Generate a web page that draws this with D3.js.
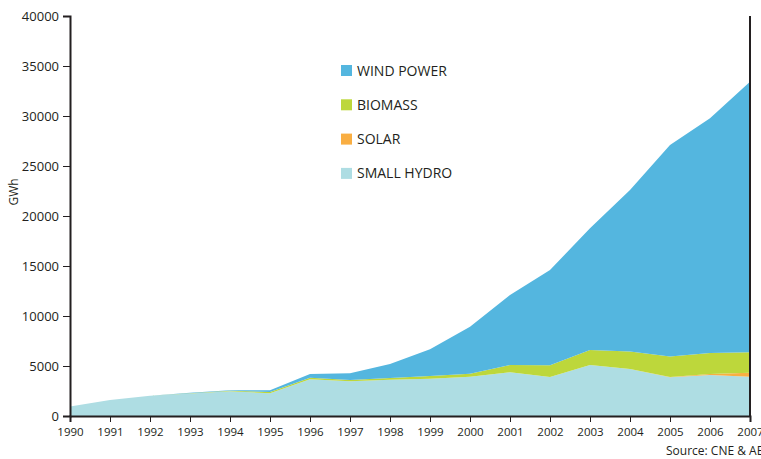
<!DOCTYPE html>
<html>
<head>
<meta charset="utf-8">
<script src="https://d3js.org/d3.v7.min.js"></script>
<style>
  body, html { margin: 0; background: #fff; }
  text { font-family: 'Open Sans', sans-serif; fill: #231f20; }
  .axis path, .axis line { stroke: #231f20; }
</style>
</head>
<body>
<div id="chart"></div>
<script>
  // data (GWh)
  var years = [1990, 1991, 1992, 1993, 1994, 1995, 1996, 1997, 1998, 1999,
               2000, 2001, 2002, 2003, 2004, 2005, 2006, 2007];
  var smallHydro = [950, 1600, 2030, 2250, 2470, 2270, 3670, 3470, 3630, 3730,
                    3930, 4370, 3900, 5100, 4700, 3870, 4100, 3930];
  var solar = [0, 0, 0, 0, 0, 0, 0, 0, 0, 0,
               0, 0, 0, 0, 10, 20, 110, 400];
  var biomass = [0, 0, 0, 20, 60, 130, 160, 130, 170, 270,
                 300, 730, 1170, 1500, 1730, 2060, 2100, 2050];
  var windPower = [0, 0, 0, 60, 40, 170, 370, 670, 1400, 2670,
                   4700, 7000, 9530, 12170, 16160, 21150, 23460, 27050];
  var yTicks = [0, 5000, 10000, 15000, 20000, 25000, 30000, 35000, 40000];

  var keys = ["hydro", "solar", "biomass", "wind"];
  var labels = {wind: "WIND POWER", biomass: "BIOMASS", solar: "SOLAR", hydro: "SMALL HYDRO"};
  var colors = {wind: "#54b6df", biomass: "#bdd73b", solar: "#f9ae42", hydro: "#aedde3"};

  var rows = years.map((y, i) => ({
    year: y, hydro: smallHydro[i], solar: solar[i], biomass: biomass[i], wind: windPower[i]
  }));

  var W = 761, H = 459;
  var svg = d3.select("#chart").append("svg")
    .attr("width", W)
    .attr("height", H);

  var x = d3.scaleLinear().domain([1990, 2007]).range([70, 750]);
  var y = d3.scaleLinear().domain([0, 40000]).range([416, 16]);

  var stack = d3.stack().keys(keys);
  var series = stack(rows);

  var area = d3.area()
    .x(d => x(d.data.year))
    .y0(d => y(d[0]))
    .y1(d => y(d[1]));

  svg.append("g").selectAll("path")
    .data(series)
    .enter()
    .append("path")
      .attr("d", area)
      .attr("fill", d => colors[d.key]);

  // axes
  var yAxis = svg.append("g")
    .attr("class", "axis")
    .attr("transform", "translate(70,0)")
    .call(d3.axisLeft(y).tickValues(yTicks).tickFormat(d3.format("d")).tickSize(7).tickPadding(4));
  yAxis.select(".domain").attr("stroke-width", 2);
  yAxis.selectAll("text").style("font-size", "13px");

  var xAxis = svg.append("g")
    .attr("class", "axis")
    .attr("transform", "translate(0,416)")
    .call(d3.axisBottom(x).tickValues(years).tickFormat(d3.format("d")).tickSize(6).tickPadding(6));
  xAxis.select(".domain").attr("stroke-width", 2);
  xAxis.selectAll("text").style("font-size", "11.5px");

  // right edge line at 2007
  svg.append("line")
    .attr("x1", x(2007)).attr("x2", x(2007))
    .attr("y1", y(40000)).attr("y2", y(0))
    .attr("stroke", "#231f20")
    .attr("stroke-width", 2);

  svg.append("text")
    .attr("transform", "translate(18,192) rotate(-90)")
    .attr("text-anchor", "middle")
    .style("font-size", "12px")
    .text("GWh");

  svg.append("text")
    .attr("x", 666)
    .attr("y", 455)
    .style("font-size", "12px")
    .text("Source: CNE & AEE");

  // legend
  var legendKeys = ["wind", "biomass", "solar", "hydro"];
  var legend = svg.append("g").selectAll("g")
    .data(legendKeys)
    .enter()
    .append("g")
      .attr("transform", (d, i) => "translate(341," + (65 + i * 34.3) + ")");
  legend.append("rect")
    .attr("width", 11)
    .attr("height", 11)
    .attr("fill", d => colors[d]);
  legend.append("text")
    .attr("x", 16)
    .attr("y", 10.5)
    .style("font-size", "14px")
    .text(d => labels[d]);
</script>
</body>
</html>
